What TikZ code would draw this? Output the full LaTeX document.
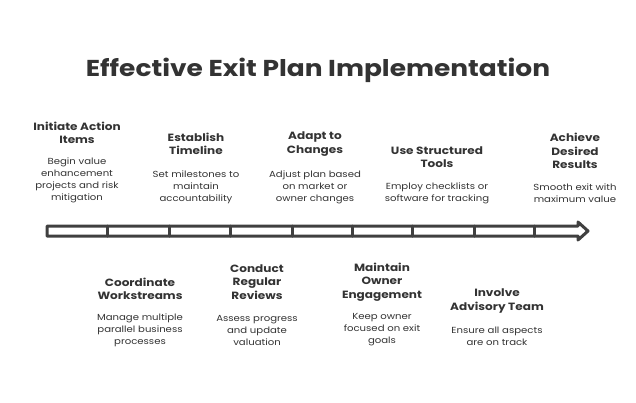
\documentclass[tikz,border=0pt]{standalone}
\usepackage{fontspec}
\setmainfont{Poppins}[FakeStretch=1.15]
\begin{document}
\begin{tikzpicture}[x=1pt,y=-1pt,
 hd/.style={font=\fontsize{10.5}{13.5}\selectfont\bfseries,text=black!80,align=center},
 ds/.style={font=\fontsize{8.8}{12}\selectfont,text=black!80,align=center},
 bar/.style={draw=black!75,line width=3pt,line join=round,line cap=round}]
\useasboundingbox (0,0) rectangle (636,402);
\node[font=\fontsize{23}{26}\selectfont\bfseries,text=black!80] (title) at (318,70) {Effective Exit Plan Implementation};
% arrow
\draw[bar,fill=white] (47,226) -- (578,226) -- (578,222) -- (588,231) -- (578,240) -- (578,236) -- (47,236) -- cycle;
\foreach \x in {107,169,230,292,352,412,474,534} \draw[bar] (\x,226) -- (\x,236);
% top
\node[hd] (h1) at (77,133) {Initiate Action\\Items};
\node[ds] (d1) at (77,180) {Begin value\\enhancement\\projects and risk\\mitigation};
\node[hd] (h2) at (196,144) {Establish\\Timeline};
\node[ds] (d2) at (196,187) {Set milestones to\\maintain\\accountability};
\node[hd] (h3) at (315,144) {Adapt to\\Changes};
\node[ds] (d3) at (315,187) {Adjust plan based\\on market or\\owner changes};
\node[hd] (h4) at (437,157) {Use Structured\\Tools};
\node[ds] (d4) at (437,193) {Employ checklists or\\software for tracking};
\node[hd] (h5) at (575,151) {Achieve\\Desired\\Results};
\node[ds] (d5) at (575,193) {Smooth exit with\\maximum value};
% bottom
\node[hd] (h6) at (140,289) {Coordinate\\Workstreams};
\node[ds] (d6) at (140,330) {Manage multiple\\parallel business\\processes};
\node[hd] (h7) at (257,282) {Conduct\\Regular\\Reviews};
\node[ds] (d7) at (257,330) {Assess progress\\and update\\valuation};
\node[hd] (h8) at (382,282) {Maintain\\Owner\\Engagement};
\node[ds] (d8) at (382,330) {Keep owner\\focused on exit\\goals};
\node[hd] (h9) at (497,301) {Involve\\Advisory Team};
\node[ds] (d9) at (497,336) {Ensure all aspects\\are on track};
\end{tikzpicture}
\end{document}
